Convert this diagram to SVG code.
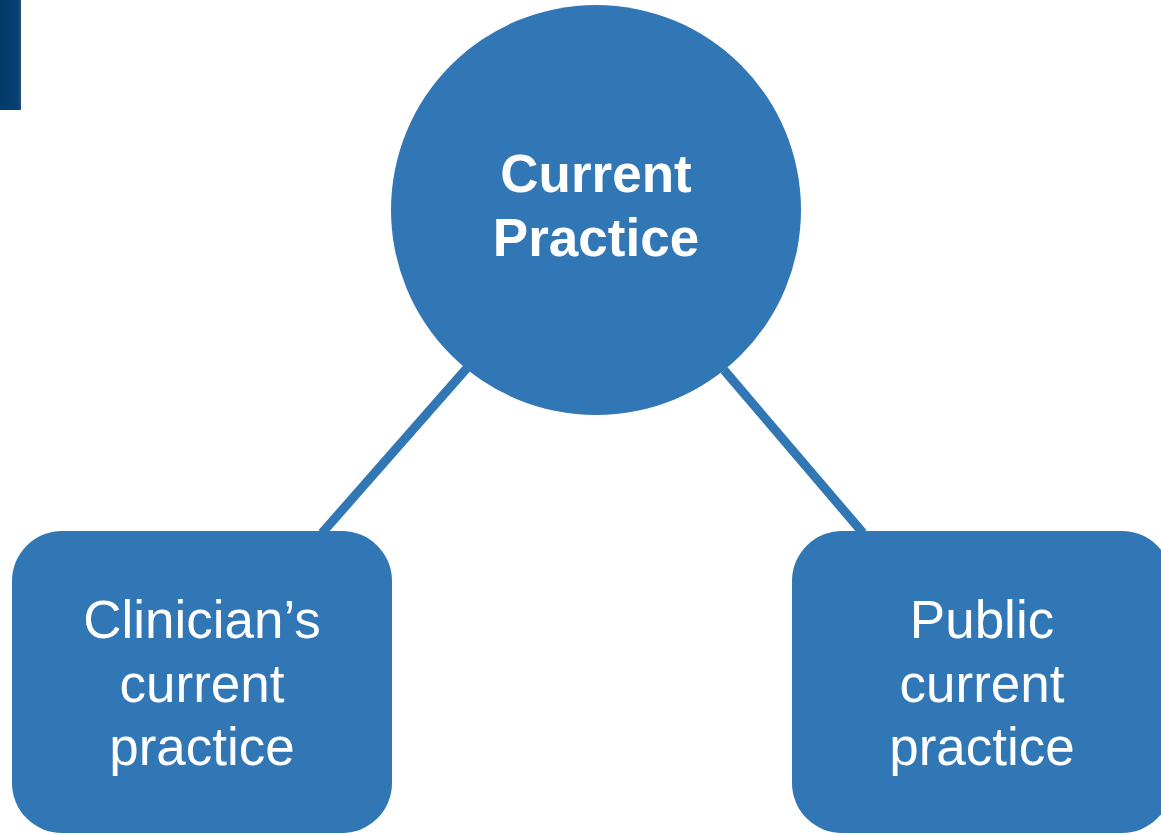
<svg xmlns="http://www.w3.org/2000/svg" width="1161" height="835" viewBox="0 0 1161 835">
<defs>
<linearGradient id="bar" x1="0" y1="0" x2="1" y2="0">
<stop offset="0" stop-color="#023a6a"/>
<stop offset="0.8" stop-color="#063f72"/>
<stop offset="1" stop-color="#1f4f7c"/>
</linearGradient>
<style>
.shape{fill:#3176B5;}
.conn{stroke:#3176B5;stroke-width:9;fill:none;}
.t{font-family:"Liberation Sans",Arial,sans-serif;fill:#ffffff;text-anchor:middle;font-size:53px;}
.b{font-weight:bold;}
</style>
</defs>
<rect x="0" y="0" width="21" height="110" fill="url(#bar)"/>
<g id="connectors">
<line class="conn" x1="467" y1="368" x2="322" y2="533"/>
<line class="conn" x1="724" y1="370" x2="863" y2="533"/>
</g>
<g id="current-practice">
<circle class="shape" cx="596" cy="210" r="205"/>
<text class="t b" x="596" y="192">Current</text>
<text class="t b" x="596" y="256">Practice</text>
</g>
<g id="clinician">
<rect class="shape" x="12" y="531" width="380" height="302" rx="50" ry="50"/>
<text class="t" x="202" y="638">Clinician’s</text>
<text class="t" x="202" y="702">current</text>
<text class="t" x="202" y="765">practice</text>
</g>
<g id="public">
<rect class="shape" x="792" y="531" width="380" height="302" rx="50" ry="50"/>
<text class="t" x="982" y="638">Public</text>
<text class="t" x="982" y="702">current</text>
<text class="t" x="982" y="765">practice</text>
</g>
</svg>
